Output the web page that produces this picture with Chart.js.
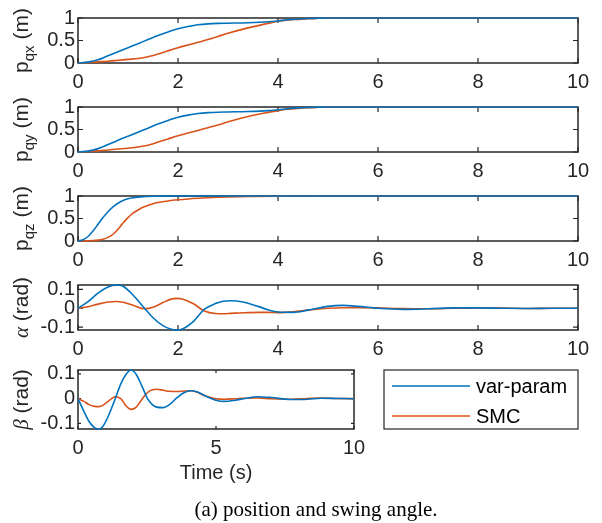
<!DOCTYPE html>
<html><head><meta charset="utf-8">
<script src="https://cdn.jsdelivr.net/npm/chart.js@4.4.1/dist/chart.umd.min.js"></script>
<style>
html,body{margin:0;padding:0;background:#fff;width:602px;height:523px;overflow:hidden;position:relative}
canvas{position:absolute;left:0}
#cap{position:absolute;left:0;width:632px;top:498px;text-align:center;font:21px "Liberation Serif","Times New Roman",serif;line-height:22px;color:#000}
</style></head><body>
<canvas id="c1"></canvas><canvas id="c2"></canvas><canvas id="c3"></canvas><canvas id="c4"></canvas><canvas id="c5"></canvas>
<div id="cap">(a) position and swing angle.</div>
<script>
// ---------------- data ----------------
const SERIES = ['var-param', 'SMC'];
const COLORS = ['#0072BD', '#D95319'];

const T_P = [0,0.2,0.4,0.6,0.8,1.0,1.2,1.4,1.6,1.8,2.0,2.2,2.4,2.6,2.8,3.0,3.4,3.8,4.0,4.2,4.4,4.6,4.8,5.0,5.5,6,7,8,9,10];
const PQX_VAR = [0,0.02,0.07,0.16,0.25,0.34,0.43,0.52,0.61,0.69,0.76,0.81,0.85,0.87,0.88,0.885,0.895,0.915,0.935,0.96,0.978,0.99,0.997,1,1,1,1,1,1,1];
const PQX_SMC = [0,0.01,0.025,0.04,0.06,0.08,0.1,0.14,0.2,0.27,0.34,0.4,0.46,0.52,0.59,0.66,0.78,0.88,0.93,0.955,0.97,0.985,0.993,0.998,1,1,1,1,1,1];
const PQY_VAR = [0,0.02,0.075,0.165,0.26,0.35,0.44,0.53,0.62,0.70,0.77,0.82,0.855,0.875,0.885,0.89,0.9,0.92,0.94,0.962,0.98,0.99,0.997,1,1,1,1,1,1,1];
const PQY_SMC = [0,0.01,0.025,0.045,0.065,0.085,0.11,0.15,0.22,0.29,0.36,0.42,0.48,0.54,0.6,0.67,0.79,0.88,0.92,0.95,0.97,0.985,0.993,0.998,1,1,1,1,1,1];

const T_PZ = [0,0.1,0.2,0.3,0.4,0.5,0.6,0.7,0.8,0.9,1.0,1.1,1.2,1.3,1.4,1.5,1.6,1.8,2.0,2.2,2.4,2.6,2.8,3.0,3.5,4,5,6,8,10];
const PQZ_VAR = [0,0.03,0.1,0.22,0.37,0.52,0.65,0.76,0.84,0.9,0.94,0.96,0.975,0.985,0.99,0.994,0.996,0.998,1,1,1,1,1,1,1,1,1,1,1,1];
const PQZ_SMC = [0,0,0.005,0.01,0.02,0.04,0.08,0.15,0.26,0.4,0.52,0.62,0.69,0.75,0.79,0.83,0.855,0.89,0.915,0.935,0.95,0.962,0.972,0.98,0.99,0.996,1,1,1,1];

const T_A = [0,0.2,0.4,0.6,0.76,0.9,1.1,1.33,1.5,1.7,1.85,1.98,2.1,2.3,2.53,2.75,2.9,3.06,3.3,3.6,3.8,4.0,4.3,4.6,5.0,5.3,5.6,6.0,6.5,7.0,7.5,8.0,8.5,9.0,9.5,10];
const ALPHA_VAR = [0,0.035,0.08,0.112,0.123,0.116,0.07,0,-0.05,-0.092,-0.11,-0.115,-0.108,-0.072,-0.005,0.025,0.037,0.04,0.033,0.01,-0.008,-0.02,-0.022,-0.01,0.01,0.015,0.01,0,-0.006,-0.003,0.002,0.002,0,-0.001,0,0];
const ALPHA_SMC = [0,0.008,0.022,0.033,0.036,0.032,0.016,-0.003,0.005,0.03,0.047,0.052,0.048,0.025,-0.015,-0.028,-0.029,-0.027,-0.024,-0.022,-0.022,-0.023,-0.019,-0.01,0,0.003,0.003,0.002,-0.002,-0.003,0,0.002,0.001,-0.001,0,0];

const T_B = [0,0.2,0.4,0.6,0.75,0.9,1.1,1.35,1.55,1.75,1.92,2.1,2.3,2.52,2.7,2.85,3.09,3.3,3.6,3.85,4.09,4.3,4.6,5.0,5.3,5.7,6.0,6.5,7.0,7.7,8.2,8.8,9.4,10];
const BETA_VAR = [0,-0.048,-0.092,-0.117,-0.1225,-0.112,-0.07,0,0.06,0.1,0.116,0.1,0.055,0,-0.025,-0.034,-0.036,-0.025,0.005,0.025,0.032,0.028,0.012,-0.006,-0.011,-0.006,0,0.008,0.005,-0.003,-0.003,0.002,0.001,0];
const BETA_SMC = [0,-0.01,-0.024,-0.031,-0.032,-0.027,-0.01,0.008,0,-0.03,-0.043,-0.035,-0.005,0.025,0.036,0.038,0.034,0.03,0.029,0.031,0.032,0.027,0.012,0,-0.002,0,0.002,0.003,0,-0.002,0,0.003,0.001,0];

const X_TICKS_10 = [0,2,4,6,8,10];
const X_TICKS_5 = [0,5,10];
const Y_TICKS_P = [0,0.5,1];
const Y_TICKS_ANG = [-0.1,0,0.1];
const Y_LIM_P = [0, 1];
const Y_LIM_ALPHA = [-0.115, 0.123];
const Y_LIM_BETA = [-0.1225, 0.116];
const X_TITLE = 'Time (s)';

// ---------------- drawing ----------------
const SANS = '"Liberation Sans", Arial, Helvetica, sans-serif';
const SERIF = '"Liberation Serif", "Times New Roman", serif';
const AX = '#262626';
const PAD_TOP = 14;

const matPlugin = {
  id: 'mat',
  beforeDatasetsDraw(chart, args, o) {
    const {ctx, chartArea: a, scales: {x, y}} = chart;
    ctx.save();
    ctx.strokeStyle = AX; ctx.lineWidth = 1.5;
    ctx.strokeRect(a.left, a.top, a.right - a.left, a.bottom - a.top);
    const L = o.tickLen;
    ctx.lineWidth = 1.2;
    ctx.beginPath();
    x.ticks.forEach(t => { const p = x.getPixelForValue(t.value);
      ctx.moveTo(p, a.bottom); ctx.lineTo(p, a.bottom - L);
      ctx.moveTo(p, a.top); ctx.lineTo(p, a.top + L); });
    y.ticks.forEach(t => { const p = y.getPixelForValue(t.value);
      ctx.moveTo(a.left, p); ctx.lineTo(a.left + L, p);
      ctx.moveTo(a.right, p); ctx.lineTo(a.right - L, p); });
    ctx.stroke();
    ctx.restore();
  },
  afterDraw(chart, args, o) {
    const {ctx, chartArea: a} = chart;
    // rotated y label with mixed fonts / subscripts
    ctx.save();
    ctx.fillStyle = AX;
    ctx.textBaseline = 'alphabetic';
    let total = 0;
    o.ylabel.forEach(p => { ctx.font = p.font; total += ctx.measureText(p.text).width; });
    ctx.translate(o.ylabelX, (a.top + a.bottom) / 2);
    ctx.rotate(-Math.PI / 2);
    let cx = -total / 2;
    o.ylabel.forEach(p => { ctx.font = p.font; ctx.fillText(p.text, cx, p.dy || 0); cx += ctx.measureText(p.text).width; });
    ctx.restore();
    // legend
    if (o.legend) {
      const lg = o.legend;
      ctx.save();
      ctx.fillStyle = '#fff';
      ctx.fillRect(lg.left, a.top, lg.right - lg.left, a.bottom - a.top);
      ctx.strokeStyle = AX; ctx.lineWidth = 1.2;
      ctx.strokeRect(lg.left, a.top, lg.right - lg.left, a.bottom - a.top);
      chart.data.datasets.forEach((ds, i) => {
        const yy = a.top + lg.rowY[i];
        ctx.strokeStyle = ds.borderColor; ctx.lineWidth = 1.5;
        ctx.beginPath(); ctx.moveTo(lg.lineX0, yy); ctx.lineTo(lg.lineX1, yy); ctx.stroke();
        ctx.fillStyle = '#000'; ctx.font = '20px ' + SANS; ctx.textBaseline = 'middle';
        ctx.fillText(ds.label, lg.textX, yy + 1);
      });
      ctx.restore();
    }
  }
};

function build(id, s) {
  const cv = document.getElementById(id);
  const xh = s.xTitle ? 56 : 30;
  const h = PAD_TOP + (s.bottom - s.top) + xh;
  cv.width = 602; cv.height = h;
  cv.style.width = '602px'; cv.style.height = h + 'px';
  cv.style.top = (s.top - PAD_TOP) + 'px';
  const mk = (ys, i) => ({
    label: SERIES[i], data: s.t.map((x, k) => ({x, y: ys[k]})),
    borderColor: COLORS[i], backgroundColor: COLORS[i], borderWidth: 1.6,
    pointRadius: 0, fill: false, cubicInterpolationMode: 'monotone', clip: 3
  });
  const tickFont = {family: SANS, size: 20};
  return new Chart(cv, {
    type: 'line',
    data: {datasets: [mk(s.s1, 0), mk(s.s2, 1)]},
    options: {
      responsive: false, animation: false, devicePixelRatio: 1,
      layout: {padding: {left: 0, top: PAD_TOP, right: 602 - s.right, bottom: 0}},
      plugins: {legend: {display: false}, tooltip: {enabled: false},
        mat: {tickLen: s.tickLen, ylabel: s.ylabel, ylabelX: 28, legend: s.legend}},
      events: [],
      scales: {
        x: {type: 'linear', min: s.xTicks[0], max: s.xTicks[s.xTicks.length - 1],
          afterBuildTicks: sc => { sc.ticks = s.xTicks.map(v => ({value: v})); },
          afterFit: sc => { sc.height = xh; },
          grid: {display: false, drawTicks: false}, border: {display: false},
          ticks: {padding: 7, color: AX, font: tickFont, maxRotation: 0, autoSkip: false, callback: v => String(v)},
          title: s.xTitle ? {display: true, text: s.xTitle, color: AX, font: {family: SANS, size: 20}, padding: 0} : {display: false}
        },
        y: {type: 'linear', min: s.yLim[0], max: s.yLim[1],
          afterBuildTicks: sc => { sc.ticks = s.yTicks.map(v => ({value: v})); },
          afterFit: sc => { sc.width = 78; },
          grid: {display: false, drawTicks: false}, border: {display: false},
          ticks: {padding: 3, color: AX, font: tickFont, autoSkip: false, callback: v => String(v)}
        }
      }
    },
    plugins: [matPlugin]
  });
}

const big = '21px ' + SANS, sub = '15px ' + SANS, greek = 'italic 21px ' + SERIF;
build('c1', {top: 17, bottom: 63, right: 578, t: T_P, s1: PQX_VAR, s2: PQX_SMC, xTicks: X_TICKS_10, yTicks: Y_TICKS_P, yLim: Y_LIM_P, tickLen: 5,
  ylabel: [{text: 'p', font: big}, {text: 'qx', font: sub, dy: 6}, {text: ' (m)', font: big}]});
build('c2', {top: 106, bottom: 152, right: 578, t: T_P, s1: PQY_VAR, s2: PQY_SMC, xTicks: X_TICKS_10, yTicks: Y_TICKS_P, yLim: Y_LIM_P, tickLen: 5,
  ylabel: [{text: 'p', font: big}, {text: 'qy', font: sub, dy: 6}, {text: ' (m)', font: big}]});
build('c3', {top: 195, bottom: 241, right: 578, t: T_PZ, s1: PQZ_VAR, s2: PQZ_SMC, xTicks: X_TICKS_10, yTicks: Y_TICKS_P, yLim: Y_LIM_P, tickLen: 5,
  ylabel: [{text: 'p', font: big}, {text: 'qz', font: sub, dy: 6}, {text: ' (m)', font: big}]});
build('c4', {top: 284, bottom: 330, right: 578, t: T_A, s1: ALPHA_VAR, s2: ALPHA_SMC, xTicks: X_TICKS_10, yTicks: Y_TICKS_ANG, yLim: Y_LIM_ALPHA, tickLen: 5,
  ylabel: [{text: '\u03B1', font: greek}, {text: ' (rad)', font: big}]});
build('c5', {top: 369, bottom: 429, right: 354, t: T_B, s1: BETA_VAR, s2: BETA_SMC, xTicks: X_TICKS_5, yTicks: Y_TICKS_ANG, yLim: Y_LIM_BETA, tickLen: 3,
  xTitle: X_TITLE,
  ylabel: [{text: '\u03B2', font: greek}, {text: ' (rad)', font: big}],
  legend: {left: 384, right: 578, lineX0: 392, lineX1: 470, textX: 476, rowY: [16, 46]}});
</script>
</body></html>
